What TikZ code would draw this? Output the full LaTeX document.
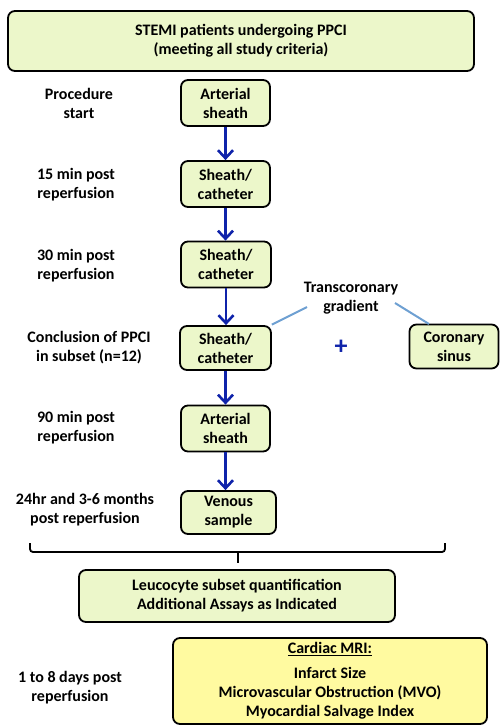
\documentclass[tikz,border=0pt]{standalone}
\usepackage{fontspec}
\setmainfont{Carlito}
\usetikzlibrary{arrows.meta}
\definecolor{boxgreen}{RGB}{236,247,202}
\definecolor{boxyellow}{RGB}{255,250,160}
\definecolor{arrblue}{RGB}{15,35,170}
\definecolor{lineblue}{RGB}{110,160,210}
\tikzset{
  box/.style={draw=black, line width=1.8pt, rounded corners=7pt, fill=boxgreen, align=center, inner sep=0pt, font=\bfseries\fontsize{16}{19}\selectfont},
  lab/.style={align=center, inner sep=0pt, font=\bfseries\fontsize{16}{19}\selectfont},
  flow/.style={draw=arrblue, line width=2.6pt, -{Straight Barb[length=8pt,width=15pt,line width=2.6pt]}},
  tc/.style={draw=lineblue, line width=2pt},
}
\begin{document}
\begin{tikzpicture}[x=1pt,y=-1pt]
\useasboundingbox (0,0) rectangle (499,726);
\node[box, minimum width=466pt, minimum height=60pt] (top) at (241,41) {STEMI patients undergoing PPCI\\(meeting all study criteria)};
\node[box, minimum width=89pt, minimum height=46pt] (b1) at (225.5,103) {Arterial\\sheath};
\node[box, minimum width=89pt, minimum height=46pt] (b2) at (225.5,184) {Sheath/\\catheter};
\node[box, minimum width=90pt, minimum height=46pt] (b3) at (226,264.5) {Sheath/\\catheter};
\node[box, minimum width=91pt, minimum height=44pt] (b4) at (225.5,348) {Sheath/\\catheter};
\node[box, minimum width=89pt, minimum height=46pt] (b5) at (225.5,428.5) {Arterial\\sheath};
\node[box, minimum width=95pt, minimum height=43pt] (b6) at (228.5,512.5) {Venous\\sample};
\node[box, minimum width=89pt, minimum height=44pt] (cs) at (454,346.5) {Coronary\\sinus};
\node[box, minimum width=316pt, minimum height=52pt] (leu) at (237,596) {Leucocyte subset quantification\\Additional Assays as Indicated};
\node[box, fill=boxyellow, minimum width=314pt, minimum height=86pt] (mri) at (330,681) {\underline{Cardiac MRI:}\\[6pt]Infarct Size\\Microvascular Obstruction (MVO)\\Myocardial Salvage Index};

\node[lab] (l1) at (79,103) {Procedure\\start};
\node[lab] (l2) at (76,185) {15 min post\\reperfusion};
\node[lab] (l3) at (76,266) {30 min post\\reperfusion};
\node[lab] (l4) at (89,348) {Conclusion of PPCI\\in subset (n=12)};
\node[lab] (l5) at (76,428) {90 min post\\reperfusion};
\node[lab] (l6) at (85,510) {24hr and 3-6 months\\post reperfusion};
\node[lab] (l7) at (70,688) {1 to 8 days post\\reperfusion};

\node[lab] (tg) at (351,298) {Transcoronary\\gradient};
\node[lab, text=arrblue, font=\bfseries\fontsize{26}{26}\selectfont] (plus) at (341,347) {+};

\draw[flow] (b1.south) -- (b1.south |- b2.north);
\draw[flow] (b2.south) -- (b2.south |- b3.north);
\draw[flow] (b3.south) -- (b3.south |- b4.north);
\draw[flow] (b4.south) -- (b4.south |- b5.north);
\draw[flow] (b5.south) -- (b5.south |- b6.north);

\coordinate (t1) at (307,307);
\coordinate (t2) at (395,303);
\coordinate (t3) at (429,324);
\draw[tc] (b4.north east) ++(0,-0.5) -- (t1);
\draw[tc] (t2) -- (t3);

\coordinate (brL) at (30,543);
\coordinate (brR) at (445,543);
\coordinate (brM) at (238,563);
\draw[line width=1.8pt, rounded corners=3pt] (brL) -- (30,552) -- (445,552) -- (brR);
\draw[line width=1.8pt] (238,552) -- (brM);
\end{tikzpicture}
\end{document}
